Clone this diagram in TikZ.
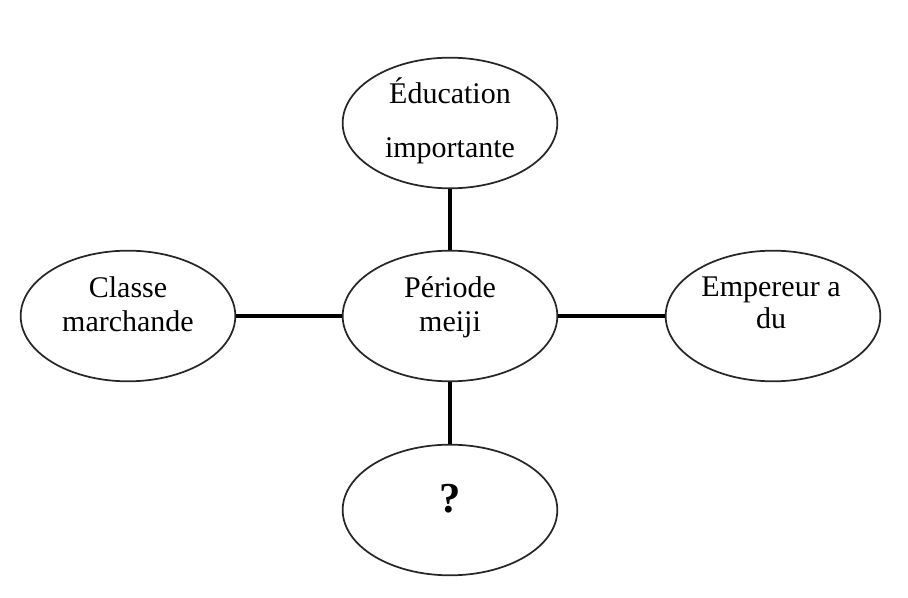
\documentclass[tikz,border=0pt]{standalone}
\usepackage{fontspec}
\setmainfont{Liberation Serif}
\usetikzlibrary{shapes.geometric}
\begin{document}
\begin{tikzpicture}[x=0.75pt,y=-0.75pt,
  ell/.style={draw=black!85, line width=1.3pt, ellipse, minimum width=161pt, minimum height=98pt, inner sep=0pt},
  txt/.style={anchor=base, inner sep=0pt, font=\fontsize{22.5}{27}\selectfont},
  link/.style={draw=black, line width=2.3pt}]
\useasboundingbox (0,0) rectangle (908,598);
\node[ell] (c) at (450,316) {};
\node[ell] (t) at (450,123) {};
\node[ell] (l) at (128,316) {};
\node[ell] (r) at (773,316) {};
\node[ell] (b) at (450,510) {};
\node[txt] (t1) at (450,104) {Éducation};
\node[txt] (t2) at (450,158) {importante};
\node[txt] (c1) at (450,298) {Période};
\node[txt] (c2) at (450,332) {meiji};
\node[txt] (l1) at (128,298) {Classe};
\node[txt] (l2) at (128,332) {marchande};
\node[txt] (r1) at (771,297) {Empereur a};
\node[txt] (r2) at (771,329) {du};
\node[txt, font=\fontsize{32}{32}\selectfont\bfseries] (b1) at (450,513) {?};
\draw[link] (t) -- (c);
\draw[link] (c) -- (b);
\draw[link] (l) -- (c);
\draw[link] (c) -- (r);
\end{tikzpicture}
\end{document}
